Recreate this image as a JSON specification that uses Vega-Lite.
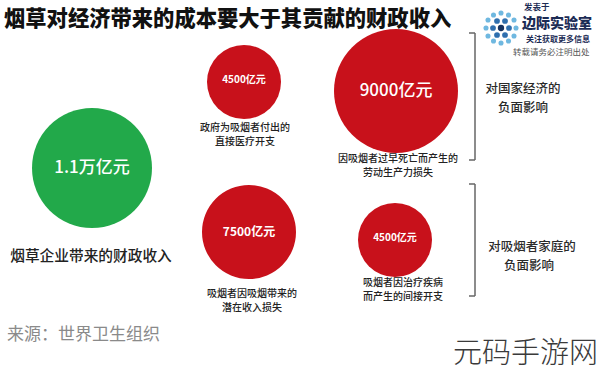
{
  "$schema": "https://vega.github.io/schema/vega-lite/v6.json",
  "width": 600,
  "height": 373,
  "autosize": {"type": "fit", "contains": "padding"},
  "padding": 0,
  "background": "#ffffff",
  "config": {"view": {"stroke": null}, "text": {"font": "Noto Sans CJK SC"}},
  "datasets": {
    "circles": [
      {"item": "烟草企业带来的财政收入", "value": 11000, "kind": "收入", "label": "1.1万亿元", "x": 92, "y": 168},
      {"item": "政府为吸烟者付出的直接医疗开支", "value": 4500, "kind": "成本", "label": "4500亿元", "x": 244, "y": 82},
      {"item": "因吸烟者过早死亡而产生的劳动生产力损失", "value": 9000, "kind": "成本", "label": "9000亿元", "x": 396, "y": 91},
      {"item": "吸烟者因吸烟带来的潜在收入损失", "value": 7500, "kind": "成本", "label": "7500亿元", "x": 249, "y": 232},
      {"item": "吸烟者因治疗疾病而产生的间接开支", "value": 4500, "kind": "成本", "label": "4500亿元", "x": 395, "y": 240}
    ],
    "captions": [
      {"text": "政府为吸烟者付出的", "x": 245, "y": 128},
      {"text": "直接医疗开支", "x": 245, "y": 141.5},
      {"text": "因吸烟者过早死亡而产生的", "x": 398, "y": 159},
      {"text": "劳动生产力损失", "x": 398, "y": 172.5},
      {"text": "吸烟者因吸烟带来的", "x": 252, "y": 294},
      {"text": "潜在收入损失", "x": 252, "y": 307.5},
      {"text": "吸烟者因治疗疾病", "x": 403, "y": 283},
      {"text": "而产生的间接开支", "x": 403, "y": 296.5}
    ],
    "groups": [
      {"text": "对国家经济的", "x": 523, "y": 89},
      {"text": "负面影响", "x": 523, "y": 107.5},
      {"text": "对吸烟者家庭的", "x": 532, "y": 247},
      {"text": "负面影响", "x": 529, "y": 265.5}
    ],
    "brackets": [
      {"x": 475, "y": 33, "x2": 475, "y2": 160},
      {"x": 469, "y": 33, "x2": 475, "y2": 33},
      {"x": 469, "y": 160, "x2": 475, "y2": 160},
      {"x": 475, "y": 184, "x2": 475, "y2": 296},
      {"x": 469, "y": 184, "x2": 475, "y2": 184},
      {"x": 469, "y": 296, "x2": 475, "y2": 296}
    ],
    "logo": [
      {"x": 501, "y": 28, "ring": "center"},
      {"x": 509, "y": 28, "ring": "inner"},
      {"x": 505, "y": 21, "ring": "inner"},
      {"x": 497, "y": 21, "ring": "inner"},
      {"x": 493, "y": 28, "ring": "inner"},
      {"x": 497, "y": 35, "ring": "inner"},
      {"x": 505, "y": 35, "ring": "inner"},
      {"x": 516, "y": 28, "ring": "outer"},
      {"x": 514, "y": 20, "ring": "outer"},
      {"x": 508.5, "y": 15, "ring": "outer"},
      {"x": 501, "y": 13, "ring": "outer"},
      {"x": 493.5, "y": 15, "ring": "outer"},
      {"x": 488, "y": 20, "ring": "outer"},
      {"x": 486, "y": 28, "ring": "outer"},
      {"x": 488, "y": 36, "ring": "outer"},
      {"x": 493.5, "y": 41, "ring": "outer"},
      {"x": 501, "y": 43, "ring": "outer"},
      {"x": 508.5, "y": 41, "ring": "outer"},
      {"x": 514, "y": 36, "ring": "outer"}
    ]
  },
  "encoding": {
    "x": {"field": "x", "type": "quantitative", "scale": {"domain": [0, 600], "nice": false, "zero": false}, "axis": null},
    "y": {"field": "y", "type": "quantitative", "scale": {"domain": [0, 373], "nice": false, "zero": false, "reverse": true}, "axis": null}
  },
  "layer": [
    {
      "data": {"name": "circles"},
      "transform": [{"filter": "datum.kind === '收入'"}],
      "mark": {"type": "circle", "opacity": 1, "color": "#22a94a"},
      "encoding": {
        "size": {"field": "value", "type": "quantitative", "scale": {"domain": [0, 11000], "range": [0, 14400]}, "legend": null}
      }
    },
    {
      "data": {"name": "circles"},
      "transform": [{"filter": "datum.kind === '成本'"}],
      "mark": {"type": "circle", "opacity": 1, "color": "#c8111b"},
      "encoding": {
        "size": {"field": "value", "type": "quantitative", "scale": {"domain": [4500, 7500, 9000], "range": [5476, 8836, 15376]}, "legend": null}
      }
    },
    {
      "data": {"name": "circles"},
      "transform": [{"filter": "datum.value >= 9000"}],
      "mark": {"type": "text", "fontSize": 17, "color": "#ffffff", "fontWeight": 500, "baseline": "middle"},
      "encoding": {"text": {"field": "label"}}
    },
    {
      "data": {"name": "circles"},
      "transform": [{"filter": "datum.value == 7500"}],
      "mark": {"type": "text", "fontSize": 12, "color": "#ffffff", "fontWeight": 700, "baseline": "middle"},
      "encoding": {"text": {"field": "label"}}
    },
    {
      "data": {"name": "circles"},
      "transform": [{"filter": "datum.value == 4500"}],
      "mark": {"type": "text", "fontSize": 10, "color": "#ffffff", "fontWeight": 700, "baseline": "middle", "dy": -2},
      "encoding": {"text": {"field": "label"}}
    },
    {
      "data": {"name": "captions"},
      "mark": {"type": "text", "fontSize": 10, "fontWeight": 500, "color": "#222222", "baseline": "middle"},
      "encoding": {"text": {"field": "text"}}
    },
    {
      "data": {"name": "groups"},
      "mark": {"type": "text", "fontSize": 12.5, "fontWeight": 500, "color": "#2a2a2a", "baseline": "middle"},
      "encoding": {"text": {"field": "text"}}
    },
    {
      "data": {"name": "brackets"},
      "mark": {"type": "rule", "color": "#666666", "strokeWidth": 1.5},
      "encoding": {"x2": {"field": "x2"}, "y2": {"field": "y2"}}
    },
    {
      "data": {"name": "logo"},
      "mark": {"type": "circle", "opacity": 1},
      "encoding": {
        "color": {"field": "ring", "type": "nominal", "scale": {"domain": ["center", "inner", "outer"], "range": ["#16325f", "#2f6fae", "#6fb8e0"]}, "legend": null},
        "size": {"field": "ring", "type": "nominal", "scale": {"domain": ["center", "inner", "outer"], "range": [40, 26, 16]}, "legend": null}
      }
    },
    {
      "data": {"values": [{"text": "烟草对经济带来的成本要大于其贡献的财政收入", "x": 4, "y": 20}]},
      "mark": {"type": "text", "fontSize": 21.3, "fontWeight": 900, "color": "#111111", "align": "left", "baseline": "middle"},
      "encoding": {"text": {"field": "text"}}
    },
    {
      "data": {"values": [{"text": "烟草企业带来的财政收入", "x": 91, "y": 257}]},
      "mark": {"type": "text", "fontSize": 14.7, "fontWeight": 500, "color": "#222222", "baseline": "middle"},
      "encoding": {"text": {"field": "text"}}
    },
    {
      "data": {"values": [{"text": "来源：世界卫生组织", "x": 7, "y": 335}]},
      "mark": {"type": "text", "fontSize": 17, "color": "#8a8a8a", "align": "left", "baseline": "middle"},
      "encoding": {"text": {"field": "text"}}
    },
    {
      "data": {"values": [{"text": "元码手游网", "x": 598, "y": 354}]},
      "mark": {"type": "text", "fontSize": 29, "fontWeight": 300, "color": "#3a3a3a", "align": "right", "baseline": "middle"},
      "encoding": {"text": {"field": "text"}}
    },
    {
      "data": {"values": [{"text": "发表于", "x": 524, "y": 7}]},
      "mark": {"type": "text", "fontSize": 8.5, "fontWeight": 700, "color": "#1c2c55", "align": "left", "baseline": "middle"},
      "encoding": {"text": {"field": "text"}}
    },
    {
      "data": {"values": [{"text": "边际实验室", "x": 522, "y": 24}]},
      "mark": {"type": "text", "fontSize": 14, "fontWeight": 900, "color": "#1c2c55", "align": "left", "baseline": "middle"},
      "encoding": {"text": {"field": "text"}}
    },
    {
      "data": {"values": [{"text": "关注获取更多信息", "x": 526, "y": 40}]},
      "mark": {"type": "text", "fontSize": 8, "fontWeight": 700, "color": "#1c2c55", "align": "left", "baseline": "middle"},
      "encoding": {"text": {"field": "text"}}
    },
    {
      "data": {"values": [{"text": "转载请务必注明出处", "x": 513, "y": 52}]},
      "mark": {"type": "text", "fontSize": 8.5, "color": "#555555", "align": "left", "baseline": "middle"},
      "encoding": {"text": {"field": "text"}}
    }
  ],
  "resolve": {"scale": {"size": "independent", "color": "independent"}}
}
